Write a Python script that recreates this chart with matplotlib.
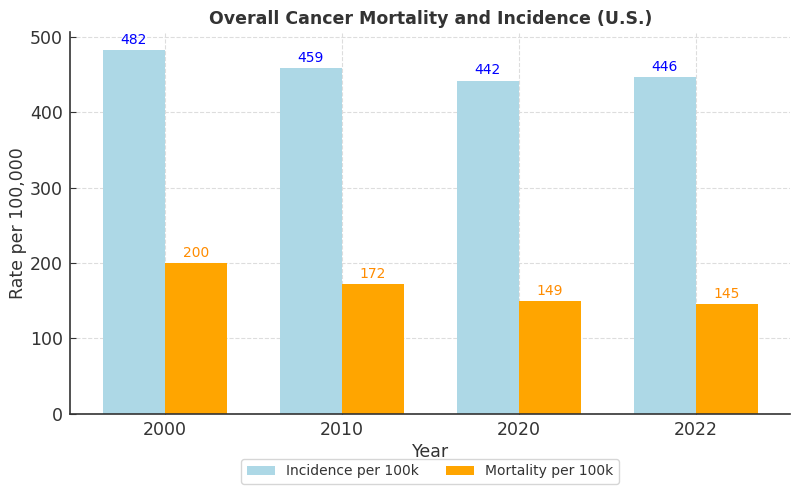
import matplotlib.pyplot as plt
import numpy as np

years = ["2000", "2010", "2020", "2022"]
incidence = [482, 459, 442, 446]
mortality = [200, 172, 149, 145]

text_col = "#333333"
plt.rcParams["text.color"] = text_col
plt.rcParams["axes.labelcolor"] = text_col
plt.rcParams["xtick.color"] = text_col
plt.rcParams["ytick.color"] = text_col

x = np.arange(len(years))
width = 0.35

fig, ax = plt.subplots(figsize=(8, 4.95), dpi=100)

b1 = ax.bar(x - width / 2, incidence, width, color="lightblue", label="Incidence per 100k")
b2 = ax.bar(x + width / 2, mortality, width, color="orange", label="Mortality per 100k")

# value labels
for rect, v in zip(b1, incidence):
    ax.text(rect.get_x() + rect.get_width() / 2, v + 4, str(v),
            ha="center", va="bottom", color="blue", fontsize=10)
for rect, v in zip(b2, mortality):
    ax.text(rect.get_x() + rect.get_width() / 2, v + 4, str(v),
            ha="center", va="bottom", color="darkorange", fontsize=10)

ax.set_xticks(x)
ax.set_xticklabels(years)
ax.tick_params(axis="both", labelsize=12.5, direction="in", length=4, pad=5)
ax.set_xlabel("Year", fontsize=12.5, labelpad=3)
ax.set_ylabel("Rate per 100,000", fontsize=12.5, labelpad=2)
ax.set_title("Overall Cancer Mortality and Incidence (U.S.)", fontsize=12.5, fontweight="bold")

ax.grid(True, linestyle="--", color="#dddddd", linewidth=0.8)
ax.set_axisbelow(True)
ax.spines["top"].set_visible(False)
ax.spines["right"].set_visible(False)
for side in ("left", "bottom"):
    ax.spines[side].set_color(text_col)
    ax.spines[side].set_linewidth(1.2)

ax.legend(loc="upper center", bbox_to_anchor=(0.5, -0.1), ncol=2, fontsize=10)

fig.subplots_adjust(left=0.0875, right=0.988, top=0.935, bottom=0.164)
fig.savefig("out.png")
